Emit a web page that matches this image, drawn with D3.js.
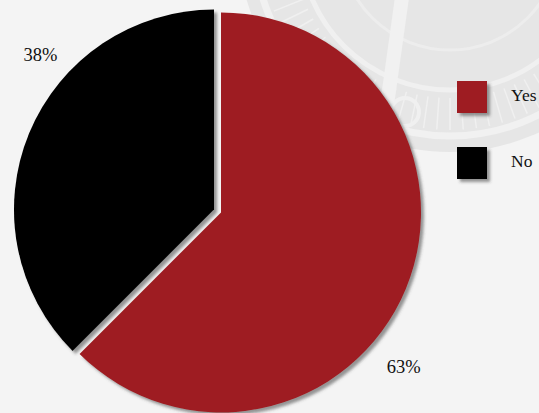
<!DOCTYPE html>
<html>
<head>
<meta charset="utf-8">
<script src="https://cdn.jsdelivr.net/npm/d3@7/dist/d3.min.js"></script>
<style>
  html, body { margin: 0; padding: 0; background: #f4f4f4; }
  svg { display: block; }
</style>
</head>
<body>
<script>
// ---- data ----
const categories = ["Yes", "No"];
const values = [62.5, 37.5];
const colors = ["#9e1c22", "#000000"];
const labelTexts = ["63%", "38%"];

const FONT = "'Liberation Serif', 'Times New Roman', serif";
const W = 539, H = 413;
const svg = d3.select("body").append("svg").attr("width", W).attr("height", H);

const defs = svg.append("defs");
const f = defs.append("filter").attr("id", "shadow")
  .attr("x", "-20%").attr("y", "-20%").attr("width", "140%").attr("height", "140%");
f.append("feDropShadow").attr("dx", 3).attr("dy", 3).attr("stdDeviation", 1.8)
  .attr("flood-color", "#444").attr("flood-opacity", 0.55);

svg.append("rect").attr("width", W).attr("height", H).attr("fill", "#f4f4f4");

// ---- faint decorative watermark (top right) ----
const deco = svg.append("g").attr("transform", "translate(450,-60)");
deco.append("circle").attr("r", 212).attr("fill", "#e6e6e6");
deco.append("circle").attr("r", 196).attr("fill", "none").attr("stroke", "#f1f1f1").attr("stroke-width", 7);
deco.append("circle").attr("r", 150).attr("fill", "none").attr("stroke", "#f0f0f0").attr("stroke-width", 5);
deco.append("circle").attr("r", 110).attr("fill", "none").attr("stroke", "#ededed").attr("stroke-width", 3);
const ticks = d3.range(0, 360, 4);
deco.selectAll("line.tk").data(ticks).join("line")
  .attr("x1", d => 158 * Math.sin(d * Math.PI / 180))
  .attr("y1", d => -158 * Math.cos(d * Math.PI / 180))
  .attr("x2", d => 190 * Math.sin(d * Math.PI / 180))
  .attr("y2", d => -190 * Math.cos(d * Math.PI / 180))
  .attr("stroke", "#f0f0f0").attr("stroke-width", 1.5);
deco.append("line").attr("x1", -40).attr("y1", 0).attr("x2", -70).attr("y2", 215)
  .attr("stroke", "#f1f1f1").attr("stroke-width", 14);
deco.append("circle").attr("cx", -45).attr("cy", 172).attr("r", 14)
  .attr("fill", "none").attr("stroke", "#f0f0f0").attr("stroke-width", 4);

// ---- pie ----
const cx = 217.5, cy = 211, R = 200, explode = 3.8;
const pie = d3.pie().sort(null).value(d => d)(values);
const arc = d3.arc().innerRadius(0).outerRadius(R);
const mid = d => (d.startAngle + d.endAngle) / 2;
const off = d => [explode * Math.sin(mid(d)), -explode * Math.cos(mid(d))];

const g = svg.append("g").attr("transform", `translate(${cx},${cy})`);
g.selectAll("path").data(pie).join("path")
  .attr("d", arc)
  .attr("fill", (d, i) => colors[i])
  .attr("filter", "url(#shadow)")
  .attr("transform", d => `translate(${off(d)[0]},${off(d)[1]})`);

// labels
const labelR = 236, labelShift = 18.5 * Math.PI / 180;
g.selectAll("text.lbl").data(pie).join("text")
  .attr("class", "lbl")
  .attr("x", d => off(d)[0] + labelR * Math.sin(mid(d) + labelShift))
  .attr("y", d => off(d)[1] - labelR * Math.cos(mid(d) + labelShift))
  .attr("dx", 4.5)
  .attr("dy", 6)
  .attr("text-anchor", "middle")
  .style("font-family", FONT)
  .style("font-size", "18.5px")
  .attr("fill", "#111")
  .text((d, i) => labelTexts[i]);

// ---- legend ----
const legend = svg.append("g").attr("transform", "translate(457,81)");
const item = legend.selectAll("g").data(categories).join("g")
  .attr("transform", (d, i) => `translate(0,${i * 66})`);
item.append("rect").attr("width", 30).attr("height", 32)
  .attr("fill", (d, i) => colors[i]).attr("filter", "url(#shadow)");
item.append("text").attr("x", 54).attr("y", 20)
  .style("font-family", FONT)
  .style("font-size", "17.5px").attr("fill", "#111")
  .text(d => d);
</script>
</body>
</html>
